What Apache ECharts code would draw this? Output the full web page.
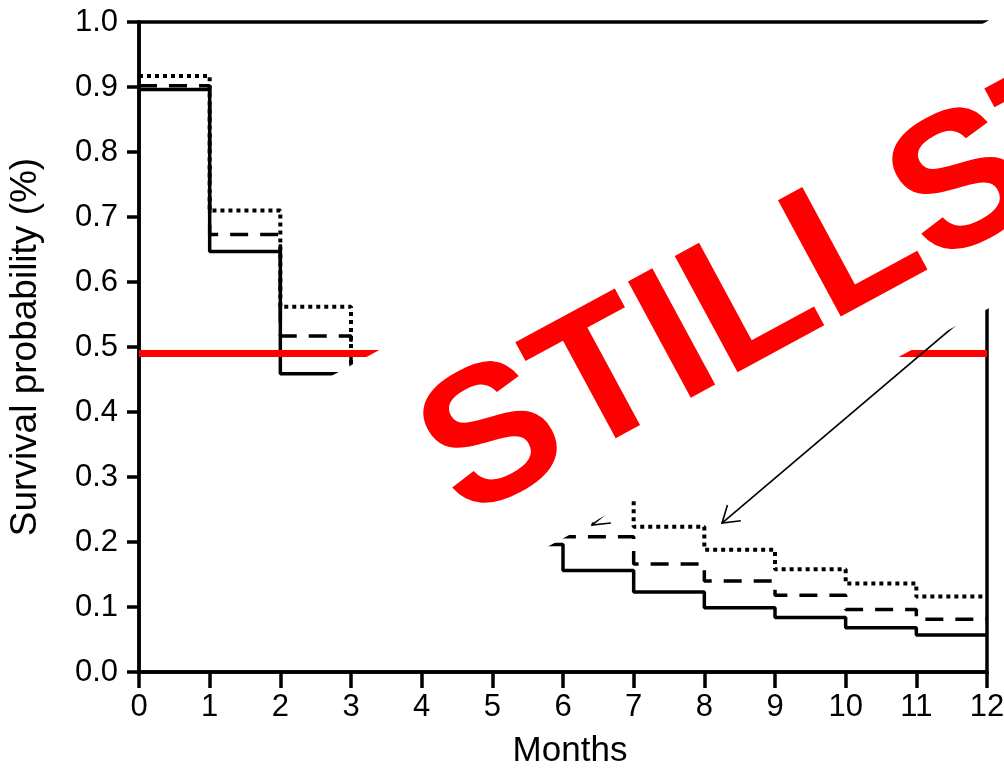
<!DOCTYPE html>
<html>
<head>
<meta charset="utf-8">
<script src="https://cdn.jsdelivr.net/npm/echarts@6/dist/echarts.min.js"></script>
<style>
  html, body { margin: 0; padding: 0; background: #fff; }
  #main { width: 1004px; height: 768px; }
</style>
</head>
<body>
<div id="main"></div>
<script>
// ---- data (Kaplan-Meier step values; last point closes the step at month 12) ----
const months = [0, 1, 2, 3, 4, 5, 6, 7, 8, 9, 10, 11, 12];
const survivalSolid  = [0.896, 0.647, 0.459, 0.33, 0.26, 0.196, 0.156, 0.123, 0.099, 0.084, 0.068, 0.057, 0.057];
const survivalDashed = [0.902, 0.673, 0.517, 0.39, 0.31, 0.25, 0.208, 0.166, 0.140, 0.118, 0.096, 0.081, 0.081];
const survivalDotted = [0.917, 0.710, 0.562, 0.44, 0.36, 0.31, 0.27, 0.2235, 0.188, 0.158, 0.136, 0.116, 0.116];
const medianLine = 0.494;
const yTicks = [0, 0.1, 0.2, 0.3, 0.4, 0.5, 0.6, 0.7, 0.8, 0.9, 1.0];
const xTicks = months;
// annotation arrows: [tip, tail] in data coordinates
const arrowTips = [[8.25, 0.229], [6.41, 0.226]];
const arrowTails = [[12.25, 0.598], [9.44, 0.495]];
const watermark = 'STILLSTAND';

const FONT = '"Liberation Sans", Arial, Helvetica, sans-serif';

function pairs(vals) { return months.map((m, i) => [m, vals[i]]); }

const chart = echarts.init(document.getElementById('main'), null, { renderer: 'canvas' });

const option = {
  animation: false,
  backgroundColor: '#fff',
  grid: {
    left: 139, right: 17, top: 22, bottom: 96,
    containLabel: false, outerBoundsMode: 'none',
    show: true, borderColor: '#000', borderWidth: 3.5, backgroundColor: 'transparent'
  },
  xAxis: {
    type: 'value', min: 0, max: 12, interval: 1,
    name: 'Months', nameLocation: 'middle', nameGap: 62,
    nameTextStyle: { fontFamily: FONT, fontSize: 35, color: '#000', padding: [0, 0, 0, 14] },
    axisLine: { show: true, lineStyle: { color: '#000', width: 3.5 } },
    axisTick: { show: true, inside: false, length: 16, lineStyle: { color: '#000', width: 3.5 } },
    axisLabel: { fontFamily: FONT, fontSize: 31, color: '#000', margin: 20,
      formatter: v => String(v) },
    splitLine: { show: false }
  },
  yAxis: {
    type: 'value', min: 0, max: 1, interval: 0.1,
    name: 'Survival probability (%)', nameLocation: 'middle', nameGap: 95, nameRotate: 90,
    nameTextStyle: { fontFamily: FONT, fontSize: 37, color: '#000' },
    axisLine: { show: true, lineStyle: { color: '#000', width: 3.5 } },
    axisTick: { show: true, inside: false, length: 12, lineStyle: { color: '#000', width: 3.5 } },
    axisLabel: { fontFamily: FONT, fontSize: 31, color: '#000', margin: 21,
      formatter: v => v.toFixed(1) },
    splitLine: { show: false }
  },
  series: [
    { name: 'solid', type: 'line', step: 'end', symbol: 'none', data: pairs(survivalSolid),
      lineStyle: { color: '#000', width: 3.5, type: 'solid', cap: 'butt' }, z: 3 },
    { name: 'dashed', type: 'line', step: 'end', symbol: 'none', data: pairs(survivalDashed),
      lineStyle: { color: '#000', width: 3.5, type: [18, 12], cap: 'butt' }, z: 3 },
    { name: 'dotted', type: 'line', step: 'end', symbol: 'none', data: pairs(survivalDotted),
      lineStyle: { color: '#000', width: 4, type: [4, 4], cap: 'butt' }, z: 3 },
    { name: 'median', type: 'line', data: [], z: 5,
      markLine: { silent: true, symbol: 'none', label: { show: false },
        lineStyle: { color: '#ff0000', width: 7, type: 'solid' },
        data: [{ yAxis: medianLine }] } }
  ]
};
chart.setOption(option);

// --- annotations: arrows (under the white band) and the rotated watermark band ---
function toPx(p) { return chart.convertToPixel({ gridIndex: 0 }, p); }
const graphics = [];
arrowTips.forEach((tip, i) => {
  const t = toPx(tip), s = toPx(arrowTails[i]);
  const ang = Math.atan2(s[1] - t[1], s[0] - t[0]);
  const half = 33 * Math.PI / 180, len = 19;
  const a1 = [t[0] + len * Math.cos(ang + half), t[1] + len * Math.sin(ang + half)];
  const a2 = [t[0] + len * Math.cos(ang - half), t[1] + len * Math.sin(ang - half)];
  graphics.push({ type: 'polyline', z: 50, shape: { points: [s, t] },
    style: { stroke: '#000', lineWidth: 1.6, fill: null } });
  graphics.push({ type: 'polyline', z: 50, shape: { points: [a1, t, a2] },
    style: { stroke: '#000', lineWidth: 1.6, fill: null } });
});
const rot = 28.4 * Math.PI / 180;
graphics.push({
  type: 'group', x: 200, y: 447, rotation: rot, z: 100,
  children: [
    { type: 'rect', z: 100, shape: { x: 0, y: 0, width: 1600, height: 253 },
      style: { fill: '#fff', stroke: null } },
    { type: 'text', z: 101, x: 197, y: 137,
      style: { text: watermark, fill: '#ff0000',
        font: 'bold 192px ' + FONT,
        textAlign: 'left', textVerticalAlign: 'middle', align: 'left', verticalAlign: 'middle' } }
  ]
});
chart.setOption({ graphic: graphics });
</script>
</body>
</html>
